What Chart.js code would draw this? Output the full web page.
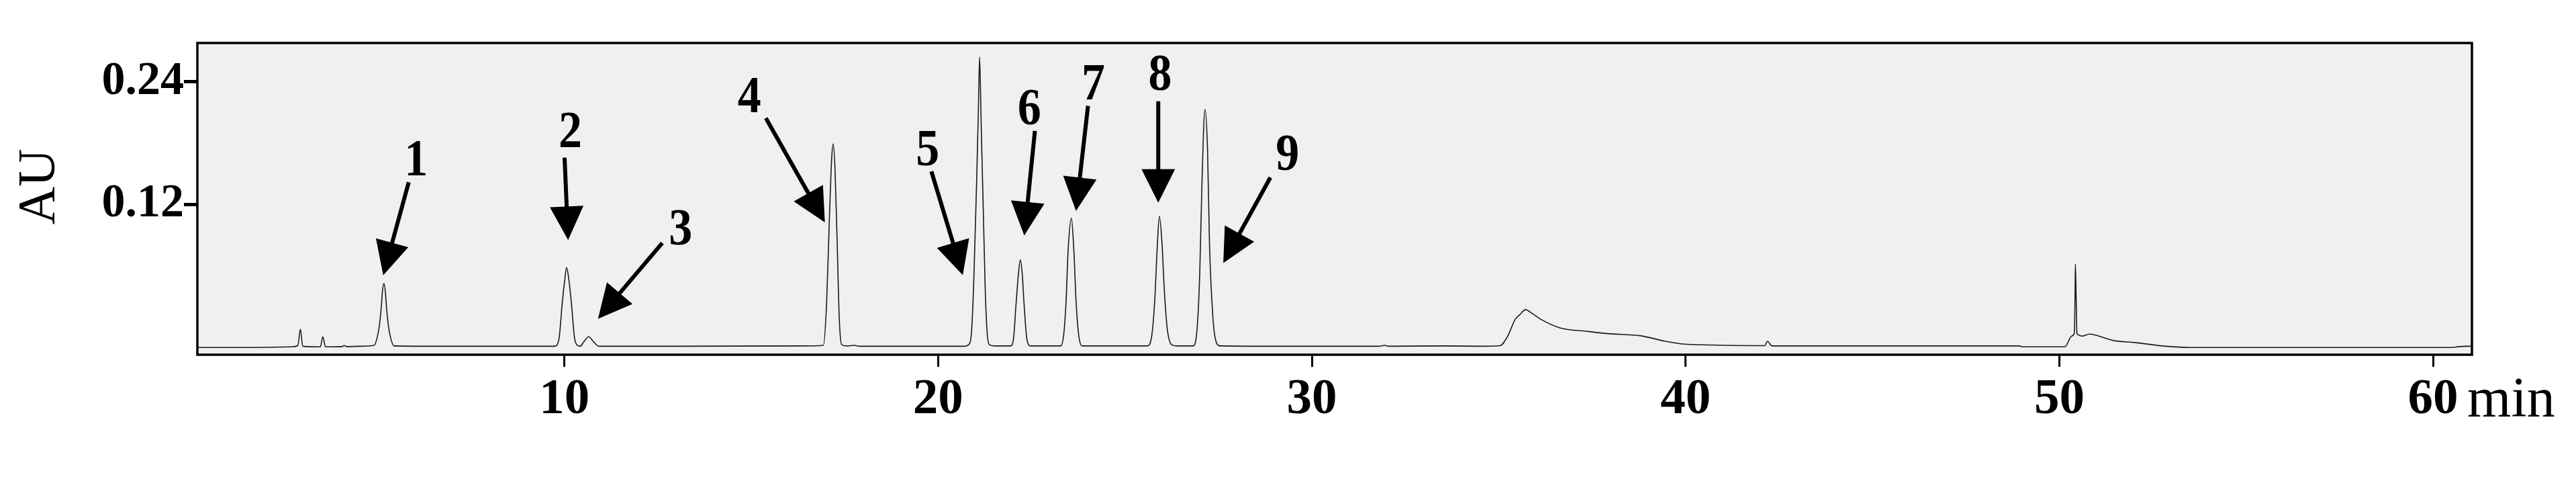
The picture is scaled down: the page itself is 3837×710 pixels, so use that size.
<!DOCTYPE html>
<html>
<head>
<meta charset="utf-8">
<script src="https://cdn.jsdelivr.net/npm/chart.js@4.4.0/dist/chart.umd.min.js"></script>
<style>
  body { margin: 0; background: #fff; }
  canvas { display: block; }
</style>
</head>
<body>
<canvas id="chromatogram" width="3837" height="710"></canvas>
<script>
// retention time (min) and absorbance (AU)
const times = [
  0.18, 1.50, 2.71, 2.87, 2.935, 3.00, 3.47, 3.536, 3.61, 4.05, 4.11, 4.17, 4.55,
  4.91, 4.99, 5.05, 5.10, 5.13, 5.17, 5.21, 5.24, 5.29, 5.35, 5.44,
  6.50, 8.00, 9.74, 9.86, 9.94, 10.01, 10.06, 10.12, 10.19, 10.27, 10.35, 10.43,
  10.51, 10.65, 10.79, 10.92, 13.00, 16.36,
  16.93, 17.015, 17.096, 17.153, 17.193, 17.242, 17.299, 17.356, 17.421, 17.58, 17.75, 17.91,
  18.50, 20.00, 20.68, 20.84, 20.90, 20.96, 21.03, 21.08, 21.11, 21.15, 21.21, 21.26, 21.31, 21.37, 21.53,
  21.94, 22.02, 22.085, 22.15, 22.20, 22.25, 22.30, 22.37, 22.47,
  23.28, 23.36, 23.42, 23.48, 23.565, 23.63, 23.695, 23.76, 23.85,
  24.70, 25.60, 25.72, 25.80, 25.86, 25.92, 25.99, 26.05, 26.13, 26.25, 26.41,
  26.82, 26.915, 27.00, 27.06, 27.14, 27.21, 27.26, 27.35, 27.43, 27.55,
  29.00, 31.80, 31.95, 32.05, 33.50, 34.50,
  35.03, 35.24, 35.44, 35.56, 35.72, 35.89, 36.13, 36.62, 37.43, 37.92, 38.81, 39.46, 39.87,
  40.68, 41.82, 42.12, 42.19, 42.31, 44.50, 48.95, 49.00,
  50.15, 50.33, 50.40, 50.42, 50.43, 50.45, 50.47, 50.49, 50.61, 50.81, 50.98, 51.47, 52.03, 52.85,
  53.50, 57.00, 60.50, 60.70, 60.90, 61.04
];
const au = [
  -0.0199, -0.0199, -0.0193, -0.0178, -0.0020, -0.0187, -0.0193, -0.0094, -0.0193, -0.0190, -0.0180, -0.0190, -0.0187,
  -0.0178, -0.0103, 0.0016, 0.0195, 0.0344, 0.0428, 0.0344, 0.0195, 0.0016, -0.0103, -0.0184,
  -0.0187, -0.0187, -0.0187, -0.0103, 0.0225, 0.0464, 0.0583, 0.0464, 0.0225, -0.0103, -0.0178, -0.0187,
  -0.0148, -0.0094, -0.0148, -0.0187, -0.0187, -0.0184,
  -0.0178, 0.0225, 0.1120, 0.1658, 0.1792, 0.1538, 0.0822, 0.0076, -0.0172, -0.0184, -0.0178, -0.0187,
  -0.0187, -0.0187, -0.0187, -0.0163, -0.0014, 0.0523, 0.1419, 0.2165, 0.2643, 0.2016, 0.1120, 0.0374, -0.0044, -0.0172, -0.0184,
  -0.0184, -0.0103, 0.0225, 0.0523, 0.0658, 0.0523, 0.0225, -0.0103, -0.0184,
  -0.0184, -0.0074, 0.0225, 0.0762, 0.1067, 0.0762, 0.0225, -0.0074, -0.0184,
  -0.0184, -0.0184, -0.0074, 0.0285, 0.0762, 0.1085, 0.0822, 0.0374, -0.0014, -0.0172, -0.0184,
  -0.0184, -0.0074, 0.0523, 0.1419, 0.2130, 0.1718, 0.0822, 0.0106, -0.0133, -0.0184,
  -0.0187, -0.0187, -0.0178, -0.0187, -0.0184, -0.0187,
  -0.0181, -0.0088, 0.0076, 0.0120, 0.0171, 0.0135, 0.0076, -0.0005, -0.0044, -0.0064, -0.0085, -0.0139, -0.0163,
  -0.0175, -0.0181, -0.0181, -0.0139, -0.0184, -0.0184, -0.0184, -0.0193,
  -0.0193, -0.0088, -0.0058, 0.0285, 0.0619, 0.0285, -0.0058, -0.0073, -0.0088, -0.0068, -0.0080, -0.0133, -0.0151, -0.0187,
  -0.0199, -0.0199, -0.0199, -0.0190, -0.0187, -0.0187
];

const xTicks = [10, 20, 30, 40, 50, 60];
const yTicks = [0.12, 0.24];

// peak numbers with their arrows, in (min, AU)
const peakLabels = ['1', '2', '3', '4', '5', '6', '7', '8', '9'];
const labelAt = [[6.03, 0.1485], [10.16, 0.1762], [13.11, 0.0807], [14.95, 0.2106], [19.72, 0.1584],
                 [22.44, 0.1986], [24.15, 0.2225], [25.94, 0.2320], [29.35, 0.1539]];
const arrowFrom = [[5.835, 0.1418], [10.005, 0.1658], [12.62, 0.0824], [15.39, 0.2046], [19.82, 0.1523],
                   [22.59, 0.1920], [24.01, 0.2165], [25.89, 0.2210], [28.89, 0.1464]];
const arrowTo = [[5.153, 0.0508], [10.10, 0.0852], [10.90, 0.0082], [16.97, 0.1025], [20.66, 0.0509],
                 [22.305, 0.0897], [23.69, 0.1136], [25.89, 0.1217], [27.63, 0.0628]];

const serif = "'Liberation Serif', 'Times New Roman', serif";

const framePlugin = {
  id: 'frame',
  beforeDraw(chart) {
    const { ctx, chartArea: a } = chart;
    ctx.save();
    ctx.fillStyle = '#f0f0f0';
    ctx.fillRect(a.left, a.top, a.right - a.left, a.bottom - a.top);
    ctx.restore();
  },
  afterDraw(chart) {
    const { ctx, chartArea: a, scales: { x, y } } = chart;
    ctx.save();
    ctx.strokeStyle = '#000';
    ctx.lineWidth = 3.5;
    ctx.strokeRect(a.left, a.top, a.right - a.left, a.bottom - a.top);

    ctx.fillStyle = '#000';
    ctx.lineWidth = 6;
    ctx.font = 'bold 70px ' + serif;
    ctx.textAlign = 'center';
    ctx.textBaseline = 'alphabetic';
    peakLabels.forEach((txt, i) => {
      // numbers in the original are a little taller than wide
      ctx.save();
      ctx.translate(x.getPixelForValue(labelAt[i][0]), y.getPixelForValue(labelAt[i][1]));
      ctx.scale(1, 1.12);
      ctx.fillText(txt, 0, 0);
      ctx.restore();

      const x0 = x.getPixelForValue(arrowFrom[i][0]), y0 = y.getPixelForValue(arrowFrom[i][1]);
      const x1 = x.getPixelForValue(arrowTo[i][0]), y1 = y.getPixelForValue(arrowTo[i][1]);
      const len = Math.hypot(x1 - x0, y1 - y0);
      const ux = (x1 - x0) / len, uy = (y1 - y0) / len;
      const bx = x1 - ux * 50, by = y1 - uy * 50;
      ctx.beginPath();
      ctx.moveTo(x0, y0);
      ctx.lineTo(bx + ux * 6, by + uy * 6);
      ctx.stroke();
      ctx.beginPath();
      ctx.moveTo(x1, y1);
      ctx.lineTo(bx - uy * 25, by + ux * 25);
      ctx.lineTo(bx + uy * 25, by - ux * 25);
      ctx.closePath();
      ctx.fill();
    });

    // axis words
    ctx.font = '84px ' + serif;
    ctx.textAlign = 'left';
    ctx.fillText('min', x.getPixelForValue(60) + 51, a.bottom + 92);
    ctx.font = '78px ' + serif;
    ctx.translate(80, (a.top + a.bottom) / 2 - 18);
    ctx.rotate(-Math.PI / 2);
    ctx.textAlign = 'center';
    ctx.fillText('AU', 0, 0);
    ctx.restore();
  }
};

new Chart(document.getElementById('chromatogram'), {
  type: 'line',
  data: {
    datasets: [{
      data: times.map((t, i) => ({ x: t, y: au[i] })),
      borderColor: '#1a1a1a',
      borderWidth: 1.6,
      pointRadius: 0,
      cubicInterpolationMode: 'monotone',
      fill: false
    }]
  },
  options: {
    responsive: false,
    animation: false,
    devicePixelRatio: 1,
    layout: { padding: { top: 64, right: 155, left: 0, bottom: 0 } },
    plugins: {
      legend: { display: false },
      tooltip: { enabled: false }
    },
    scales: {
      x: {
        type: 'linear',
        min: 0.18,
        max: 61.04,
        afterFit(scale) { scale.height = 182; },
        afterBuildTicks(scale) { scale.ticks = xTicks.map(v => ({ value: v })); },
        grid: { drawOnChartArea: false, tickLength: 18, tickWidth: 3, tickColor: '#000' },
        border: { display: false },
        ticks: {
          color: '#000',
          font: { family: serif, size: 75, weight: 'bold' },
          padding: 5,
          maxRotation: 0,
          autoSkip: false
        }
      },
      y: {
        type: 'linear',
        min: -0.027,
        max: 0.278,
        afterFit(scale) { scale.width = 294; },
        afterBuildTicks(scale) { scale.ticks = yTicks.map(v => ({ value: v })); },
        grid: { drawOnChartArea: false, tickLength: 20, tickWidth: 5, tickColor: '#000' },
        border: { display: false },
        ticks: {
          color: '#000',
          font: { family: serif, size: 70, weight: 'bold' },
          padding: 0,
          callback: v => v.toFixed(2)
        }
      }
    }
  },
  plugins: [framePlugin]
});
</script>
</body>
</html>
